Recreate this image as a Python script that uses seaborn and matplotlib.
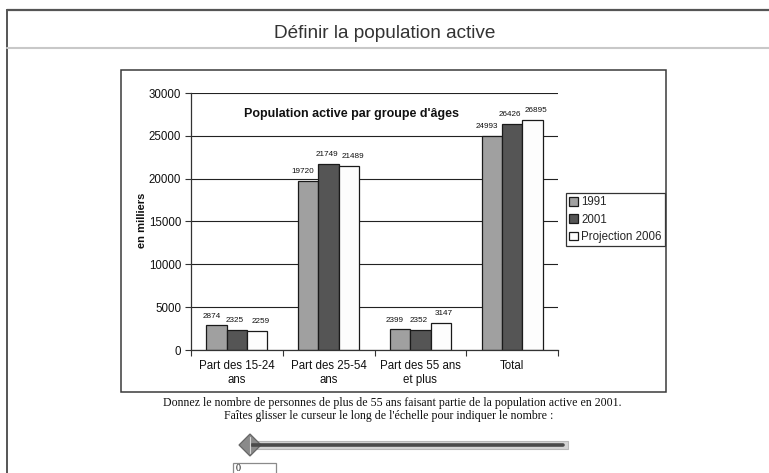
import numpy as np
import pandas as pd
import matplotlib
matplotlib.use("Agg")
import matplotlib.pyplot as plt
import seaborn as sns
from matplotlib.patches import Rectangle, Polygon
from matplotlib.lines import Line2D

# Données : population active (en milliers) par groupe d'âges
groupes = ["Part des 15-24\nans", "Part des 25-54\nans", "Part des 55 ans\net plus", "Total"]
annees = ["1991", "2001", "Projection 2006"]
pop_1991 = [2874, 19720, 2399, 24993]
pop_2001 = [2325, 21749, 2352, 26426]
pop_2006 = [2259, 21489, 3147, 26895]
graduations = [0, 5000, 10000, 15000, 20000, 25000, 30000]
couleurs = ["#a0a0a0", "#555555", "#fdfdfd"]

df = pd.DataFrame({
    "groupe": groupes * 3,
    "serie": np.repeat(annees, len(groupes)),
    "valeur": pop_1991 + pop_2001 + pop_2006,
})

sns.set_theme(style="white")
plt.rcParams["font.family"] = ["Liberation Sans", "DejaVu Sans"]

W, H = 769, 473
fig = plt.figure(figsize=(W / 100, H / 100), dpi=100)
fig.patch.set_facecolor("white")


def fx(x):
    return x / W


def fy(y):
    return 1 - y / H


# --- Cadre de la page ---
fig.add_artist(Line2D([fx(7), 1], [fy(10.5), fy(10.5)], color="#555555", lw=1.6))
fig.add_artist(Line2D([fx(7), fx(7)], [fy(10.5), 0], color="#555555", lw=1.4))
fig.add_artist(Line2D([fx(7), 1], [fy(48), fy(48)], color="#c8c8c8", lw=1.5))
fig.text(fx(385), fy(33), "Définir la population active", fontsize=13.7,
         color="#333333", ha="center", va="center")

# --- Graphique ---
ax = fig.add_axes([fx(191), fy(350), (558 - 191) / W, (350 - 93) / H])
sns.barplot(data=df, x="groupe", y="valeur", hue="serie", order=groupes,
            hue_order=annees, palette=couleurs, width=0.667, saturation=1,
            edgecolor="#1a1a1a", linewidth=0.9, ax=ax, legend=True)

ax.set_xlim(-0.5, len(groupes) - 0.5)
ax.set_ylim(0, 30000)
ax.set_yticks(graduations)
ax.set_yticklabels([str(g) for g in graduations])
ax.set_xticks(np.arange(-0.5, len(groupes)), minor=True)
ax.set_xlabel("")
ax.set_ylabel("")
ax.set_facecolor("none")
ax.grid(axis="y", color="#222222", lw=0.8)
ax.set_axisbelow(True)
for side in ("top", "right"):
    ax.spines[side].set_visible(False)
for side in ("left", "bottom"):
    ax.spines[side].set_color("#333333")
    ax.spines[side].set_linewidth(0.9)
ax.tick_params(axis="y", which="major", left=True, length=4, width=0.8,
               color="#333333", labelsize=8.3, pad=3, labelcolor="#111111")
ax.tick_params(axis="x", which="major", bottom=True, length=0, labelsize=8.3,
               pad=7, labelcolor="#111111")
ax.tick_params(axis="x", which="minor", bottom=True, length=4, width=0.8,
               color="#333333")

# Étiquettes de valeur, légèrement écartées pour ne pas se chevaucher
decalages = [-3.6, -1.4, 2.5]  # en points, par série
for cont, dx in zip(ax.containers, decalages):
    etiquettes = ax.bar_label(cont, fmt="%d", fontsize=5.9, padding=4.2,
                              color="#111111")
    for et in etiquettes:
        et.xyann = (dx, et.xyann[1])

handles, labels = ax.get_legend_handles_labels()
leg = ax.legend(handles, labels, loc="upper left",
                bbox_to_anchor=(fx(566), fy(193)), bbox_transform=fig.transFigure,
                borderaxespad=0, frameon=True, fancybox=False, edgecolor="#333333",
                framealpha=1, fontsize=8.3, handlelength=0.75, handleheight=0.75,
                handletextpad=0.25, labelspacing=0.45, borderpad=0.3)
leg.get_frame().set_linewidth(0.9)

fig.text(fx(352), fy(114), "Population active par groupe d'âges", fontsize=9,
         fontweight="bold", ha="center", va="center", color="#111111")
fig.text(fx(142), fy(220.5), "en milliers", fontsize=8, fontweight="bold",
         rotation=90, ha="center", va="center", color="#111111")

fig.add_artist(Rectangle((fx(121), fy(392)), (666 - 121) / W, (392 - 70) / H,
                         transform=fig.transFigure, fill=False,
                         edgecolor="#3a3a3a", lw=1.1))

# --- Question et curseur ---
serif = ["Liberation Serif", "DejaVu Serif"]
fig.text(fx(392), fy(403),
         "Donnez le nombre de personnes de plus de 55 ans faisant partie de la population active en 2001.",
         family=serif, fontsize=8.6, ha="center", va="center", color="#111111")
fig.text(fx(389), fy(416),
         "Faîtes glisser le curseur le long de l'échelle pour indiquer le nombre :",
         family=serif, fontsize=8.6, ha="center", va="center", color="#111111")

fig.add_artist(Rectangle((fx(250), fy(449)), (568 - 250) / W, 8 / H,
                         transform=fig.transFigure, facecolor="#d4d4d4",
                         edgecolor="#b8b8b8", lw=0.8))
fig.add_artist(Line2D([fx(252), fx(563)], [fy(445), fy(445)], color="#4a4a4a", lw=2.6))
fig.add_artist(Polygon([(fx(239), fy(445)), (fx(250), fy(434)), (fx(261), fy(445)),
                        (fx(250), fy(456))], closed=True, transform=fig.transFigure,
                       facecolor="#8a8a8a", edgecolor="#666666", lw=0.9))
fig.add_artist(Line2D([fx(250), fx(250)], [fy(437), fy(453)], color="#d8d8d8", lw=0.8))

fig.add_artist(Rectangle((fx(233), fy(480)), (276 - 233) / W, 17 / H,
                         transform=fig.transFigure, facecolor="white",
                         edgecolor="#8a8a8a", lw=0.9, clip_on=False))
fig.text(fx(236), fy(468.5), "0", family=serif, fontsize=7.2, ha="left", va="center",
         color="#111111")

fig.savefig("out.png", dpi=100)
